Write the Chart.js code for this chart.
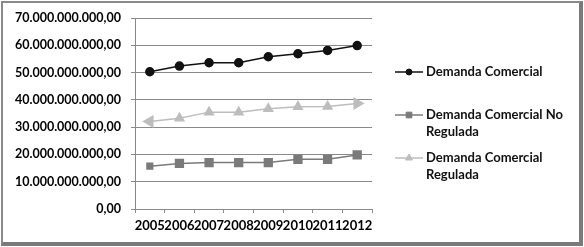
<!DOCTYPE html>
<html>
<head>
<meta charset="utf-8">
<script src="https://cdn.jsdelivr.net/npm/chart.js@4"></script>
<style>
  html, body { margin: 0; padding: 0; background: #fff; }
  #wrap { position: relative; width: 584px; height: 247px; }
  #frame { position: absolute; left: 1px; top: 1px; width: 576px; height: 239px;
           border-left: 2px solid #8a8a8a; border-top: 2px solid #8a8a8a;
           border-right: 4px solid #7a7a7a; border-bottom: 4px solid #7a7a7a; }
  canvas { position: absolute; left: 0; top: 0; }
</style>
</head>
<body>
<div id="wrap">
  <canvas id="chart" width="584" height="247"></canvas>
  <div id="frame"></div>
</div>
<script>
const years = ['2005', '2006', '2007', '2008', '2009', '2010', '2011', '2012'];
const demandaComercial = [50.3e9, 52.4e9, 53.6e9, 53.6e9, 55.8e9, 56.9e9, 58.1e9, 59.9e9];
const demandaNoRegulada = [15.7e9, 16.7e9, 17.0e9, 17.0e9, 17.0e9, 18.2e9, 18.2e9, 19.8e9];
const demandaRegulada = [32.1e9, 33.3e9, 35.5e9, 35.5e9, 36.7e9, 37.5e9, 37.6e9, 38.7e9];
const yTicks = [0, 10e9, 20e9, 30e9, 40e9, 50e9, 60e9, 70e9];

const FAMILY = 'Lato, "Open Sans", sans-serif';

// 1.000.000,00 style
function fmt(v) {
  const s = Math.round(v).toString().replace(/\B(?=(\d{3})+(?!\d))/g, '.');
  return s + ',00';
}

// legend with wrapped labels on the right
const sideLegend = {
  id: 'sideLegend',
  afterDraw(chart) {
    const ctx = chart.ctx;
    const items = [
      { y: 72, lines: ['Demanda Comercial'] },
      { y: 115, lines: ['Demanda Comercial No', 'Regulada'] },
      { y: 158, lines: ['Demanda Comercial', 'Regulada'] }
    ];
    ctx.save();
    chart.data.datasets.forEach((ds, i) => {
      const it = items[i];
      ctx.strokeStyle = ds.borderColor;
      ctx.lineWidth = ds.borderWidth;
      ctx.beginPath();
      ctx.moveTo(395, it.y);
      ctx.lineTo(423, it.y);
      ctx.stroke();
      ctx.fillStyle = ds.pointBackgroundColor;
      ctx.strokeStyle = ds.pointBackgroundColor;
      ctx.lineWidth = 1;
      Chart.helpers.drawPoint(ctx, { pointStyle: ds.pointStyle, radius: ds.legendRadius, rotation: 0, borderWidth: 1 }, 409, it.y);
      ctx.fillStyle = '#111';
      ctx.font = 'bold 13px ' + FAMILY;
      ctx.textBaseline = 'middle';
      ctx.textAlign = 'left';
      it.lines.forEach((t, k) => ctx.fillText(t, 426, it.y + k * 17));
    });
    ctx.restore();
  }
};

new Chart(document.getElementById('chart'), {
  type: 'line',
  data: {
    labels: years,
    datasets: [
      {
        label: 'Demanda Comercial',
        data: demandaComercial,
        borderColor: '#111',
        backgroundColor: '#111',
        pointBackgroundColor: '#111',
        pointBorderColor: '#111',
        borderWidth: 1.5,
        pointStyle: 'circle',
        pointRadius: 4,
        legendRadius: 3,
        tension: 0
      },
      {
        label: 'Demanda Comercial No Regulada',
        data: demandaNoRegulada,
        borderColor: '#7a7a7a',
        backgroundColor: '#7a7a7a',
        pointBackgroundColor: '#7a7a7a',
        pointBorderColor: '#7a7a7a',
        borderWidth: 1.5,
        pointStyle: 'rect',
        pointRadius: [4, 5.5, 5.5, 5.5, 5.5, 5.5, 5.5, 5.5],
        legendRadius: 4,
        tension: 0
      },
      {
        label: 'Demanda Comercial Regulada',
        data: demandaRegulada,
        borderColor: '#bdbdbd',
        backgroundColor: '#bdbdbd',
        pointBackgroundColor: '#bdbdbd',
        pointBorderColor: '#bdbdbd',
        borderWidth: 1.5,
        pointStyle: 'triangle',
        pointRadius: [6, 5, 5, 5, 5, 5, 5, 6],
        pointRotation: [-90, 0, 0, 0, 0, 0, 0, 90],
        legendRadius: 4,
        tension: 0
      }
    ]
  },
  options: {
    responsive: false,
    animation: false,
    layout: { padding: { left: 0, right: 212, top: 18, bottom: 0 } },
    plugins: { legend: { display: false }, tooltip: { enabled: false } },
    scales: {
      x: {
        offset: true,
        grid: { drawOnChartArea: false, drawTicks: true, tickLength: 4, color: '#8a8a8a', offset: true },
        border: { display: true, color: '#8a8a8a' },
        ticks: { font: { family: FAMILY, size: 13, weight: 'bold' }, color: '#000', padding: 5, maxRotation: 0, autoSkip: false },
        afterFit(s) { s.height = 38; }
      },
      y: {
        min: 0,
        max: 70e9,
        afterBuildTicks(s) { s.ticks = yTicks.map(v => ({ value: v })); },
        grid: { color: '#8a8a8a', tickLength: 4 },
        border: { display: true, color: '#8a8a8a' },
        ticks: { font: { family: FAMILY, size: 12.5, weight: 'bold' }, color: '#000', padding: 10, callback: v => fmt(v) },
        afterFit(s) { s.width = 135; }
      }
    }
  },
  plugins: [sideLegend]
});
</script>
</body>
</html>
